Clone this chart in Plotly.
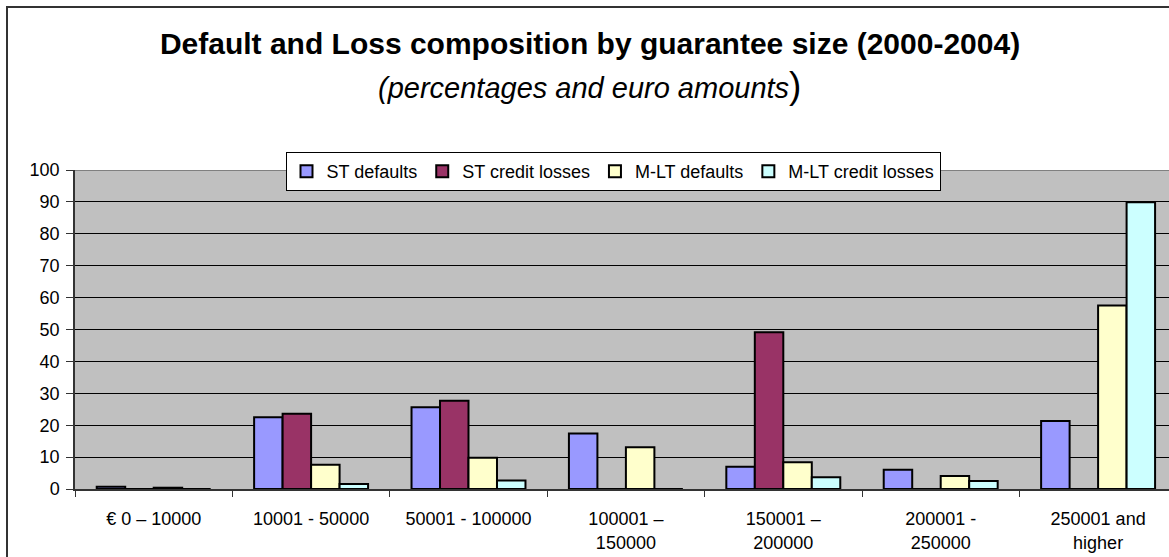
import plotly.graph_objects as go

categories = ["€ 0 – 10000", "10001 - 50000", "50001 - 100000", "100001 –<br>150000",
              "150001 –<br>200000", "200001 -<br>250000", "250001 and<br>higher"]
st_defaults = [0.7, 22.5, 25.6, 17.4, 7.0, 6.0, 21.3]
st_credit_losses = [0, 23.6, 27.7, 0, 49.1, 0, 0]
mlt_defaults = [0.4, 7.6, 9.8, 13.1, 8.4, 4.1, 57.5]
mlt_credit_losses = [0, 1.6, 2.7, 0, 3.7, 2.5, 89.9]

series = [
    ("ST defaults", st_defaults, "#9999FF"),
    ("ST credit losses", st_credit_losses, "#993366"),
    ("M-LT defaults", mlt_defaults, "#FFFFCC"),
    ("M-LT credit losses", mlt_credit_losses, "#CCFFFF"),
]

FONT = "Arial, Liberation Sans, sans-serif"
W, H = 1169, 557
L, R, T, B = 75, 0, 170, 68
pw = W - L - R
ph = H - T - B

fig = go.Figure()
for name, vals, col in series:
    fig.add_trace(go.Bar(x=categories, y=vals, name=name,
                         marker=dict(color=col, line=dict(color="black", width=2))))

def px_x(x):
    return (x - L) / pw

def px_y(y):
    return (H - B - y) / ph

fig.update_layout(
    width=W, height=H,
    margin=dict(l=L, r=R, t=T, b=B),
    paper_bgcolor="white",
    plot_bgcolor="#C0C0C0",
    barmode="group",
    bargap=0.276,
    bargroupgap=0,
    font=dict(family=FONT, size=18, color="black"),
    title=dict(text="<b>Default and Loss composition by guarantee size (2000-2004)</b>",
               font=dict(family=FONT, size=30, color="black"),
               x=590 / W, xanchor="center", xref="container",
               y=1 - 43 / H, yanchor="middle", yref="container"),
    legend=dict(orientation="h", x=px_x(613), xanchor="center",
                y=px_y(152), yanchor="top",
                bgcolor="white", bordercolor="black", borderwidth=1,
                font=dict(family=FONT, size=18), itemsizing="constant",
                itemwidth=30),
    xaxis=dict(range=[-0.5, -0.5 + (W - L) / 157.4], showgrid=False,
               showline=True, linecolor="#333333", linewidth=1.5,
               ticks="outside", tickson="boundaries", ticklen=6, tickcolor="#333333",
               tickfont=dict(family=FONT, size=18), ticklabelstandoff=13,
               fixedrange=True),
    yaxis=dict(range=[0, 100], dtick=10, tick0=0, showgrid=True,
               gridcolor="black", gridwidth=1,
               showline=True, linecolor="#333333", linewidth=1.5,
               ticks="outside", ticklen=7, tickcolor="#333333",
               tickfont=dict(family=FONT, size=18), ticklabelstandoff=3,
               zeroline=False),
    showlegend=True,
)

fig.add_annotation(text="<i>(percentages and euro amounts</i><span style='font-size:37px'>)</span>",
                   xref="paper", yref="paper", x=px_x(589), y=px_y(86),
                   xanchor="center", yanchor="middle", showarrow=False,
                   font=dict(family=FONT, size=29, color="black"))

# plot area top border (grey) and outer chart border
fig.add_shape(type="line", xref="paper", yref="y", x0=0, x1=1, y0=100, y1=100,
              line=dict(color="#808080", width=2))
fig.add_shape(type="rect", xref="paper", yref="paper",
              x0=px_x(7), x1=px_x(W + 20), y0=px_y(H + 20), y1=px_y(7),
              line=dict(color="#333333", width=2), fillcolor="rgba(0,0,0,0)", layer="above")

fig.write_html("out.html")
